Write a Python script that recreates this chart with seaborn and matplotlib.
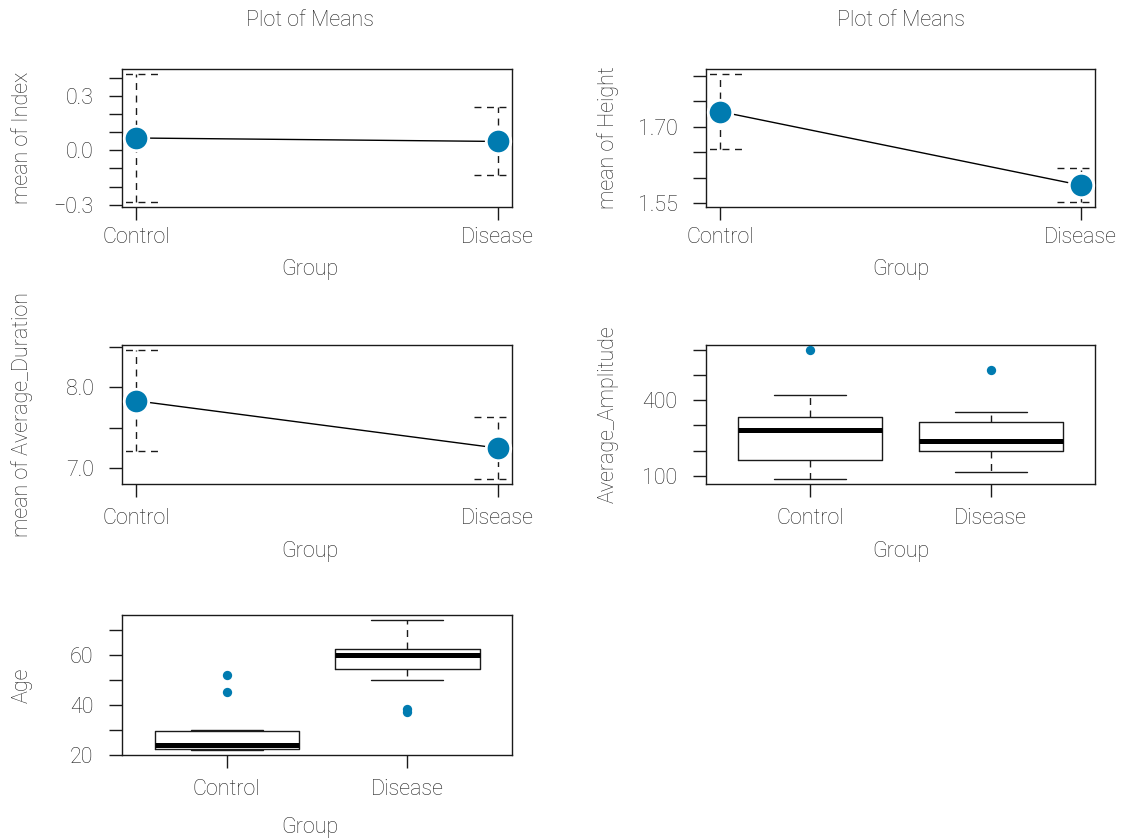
import numpy as np
import pandas as pd
import matplotlib
matplotlib.use("Agg")
import matplotlib.pyplot as plt
import seaborn as sns

# ---------------- data ----------------
groups = ["Control", "Disease"]

index_mean = [0.068, 0.049]
index_lo = [-0.285, -0.137]
index_hi = [0.421, 0.238]

height_mean = [1.730, 1.585]
height_lo = [1.656, 1.552]
height_hi = [1.804, 1.618]

duration_mean = [7.833, 7.246]
duration_lo = [7.204, 6.863]
duration_hi = [8.463, 7.633]

amp_whislo = [89, 118]
amp_q1 = [165, 198]
amp_med = [281, 240]
amp_q3 = [333, 315]
amp_whishi = [421, 352]
amp_fliers = [[598], [520]]

age_whislo = [22, 50]
age_q1 = [22.2, 54.6]
age_med = [24, 60]
age_q3 = [29.5, 62.3]
age_whishi = [30, 74]
age_fliers = [[45, 52], [37.2, 38.4]]

index_ticks = [-0.3, -0.2, -0.1, 0.0, 0.1, 0.2, 0.3, 0.4]
index_labels = ["\u22120.3", "", "", "0.0", "", "", "0.3", ""]
height_ticks = [1.55, 1.60, 1.65, 1.70, 1.75, 1.80]
height_labels = ["1.55", "", "", "1.70", "", ""]
duration_ticks = [7.0, 7.5, 8.0, 8.5]
duration_labels = ["7.0", "", "8.0", ""]
amp_ticks = [100, 200, 300, 400, 500, 600]
amp_labels = ["100", "", "", "400", "", ""]
age_ticks = [20, 30, 40, 50, 60, 70]
age_labels = ["20", "", "40", "", "60", ""]

# ---------------- style ----------------
sns.set_theme(style="ticks")
plt.rcParams["font.family"] = ["Roboto", "DejaVu Sans"]
plt.rcParams["font.weight"] = "light"
plt.rcParams["axes.labelweight"] = "light"
plt.rcParams["axes.titleweight"] = "light"

BLUE = "#007BB0"
TXT = "#222222"
LINE = "#1a1a1a"
FS = 15.5
CAP = 0.066
DASH = (0, (5, 4))

fig = plt.figure(figsize=(11.23, 8.40), dpi=100)
W, H = 1123, 840


def rect(x0, y0, x1, y1):
    return [x0 / W, 1 - y1 / H, (x1 - x0) / W, (y1 - y0) / H]


def style_axes(ax, box, ticks, labels, ylabel, ylab_x, xlab_y, xpad, cx):
    x0, y0, x1, y1 = box
    for s in ax.spines.values():
        s.set_visible(True)
        s.set_color(LINE)
        s.set_linewidth(1.0)
    ax.set_yticks(ticks)
    ax.set_yticklabels(labels)
    ax.tick_params(axis="both", direction="out", length=9.5, width=1.0,
                   color=LINE, labelcolor=TXT, labelsize=FS)
    ax.tick_params(axis="y", pad=11)
    ax.tick_params(axis="x", pad=xpad)
    ax.set_xlabel("Group", fontsize=FS, color=TXT)
    ax.set_ylabel(ylabel, fontsize=FS, color=TXT)
    ax.yaxis.set_label_coords((ylab_x - x0) / (x1 - x0), 0.5)
    ax.yaxis.label.set_va("center")
    ax.xaxis.set_label_coords((cx - x0) / (x1 - x0), (y1 - xlab_y) / (y1 - y0))
    ax.xaxis.label.set_va("center")
    ax.grid(False)


def means_panel(ax, box, mean, lo, hi, ylabel, ticks, labels, ylab_x,
                xlab_y, xpad, cx, title=True):
    x = np.arange(1, len(groups) + 1)
    df = pd.DataFrame({"x": x, "mean": mean, "lo": lo, "hi": hi})
    for xi, l, h in zip(df["x"], df["lo"], df["hi"]):
        ax.vlines(xi, l, h, colors=LINE, linestyles=DASH, lw=1.0, zorder=2)
        ax.hlines([l, h], xi - CAP, xi + CAP, colors=LINE,
                  linestyles=DASH, lw=1.0, zorder=2)
    sns.lineplot(data=df, x="x", y="mean", color="black", lw=1.0,
                 ax=ax, zorder=3, sort=False)
    sns.scatterplot(data=df, x="x", y="mean", color=BLUE, s=310,
                    edgecolor="white", linewidth=2.0, ax=ax, zorder=4)
    lo_all, hi_all = min(lo), max(hi)
    pad = 0.04 * (hi_all - lo_all)
    ax.set_xlim(0.96, 2.04)
    ax.set_xticks(x)
    ax.set_xticklabels(groups)
    style_axes(ax, box, ticks, labels, ylabel, ylab_x, xlab_y, xpad, cx)
    ax.set_ylim(lo_all - pad, hi_all + pad)
    if title:
        ax.text((cx - box[0]) / (box[2] - box[0]),
                1 + (box[1] - 20) / (box[3] - box[1]), "Plot of Means",
                transform=ax.transAxes, ha="center", va="center",
                fontsize=FS, color=TXT)


def box_panel(ax, box, whislo, q1, med, q3, whishi, fliers, ylabel, ticks,
              labels, ylab_x, xlab_y, xpad, cx):
    stats = []
    for i, g in enumerate(groups):
        stats.append(dict(label=g, whislo=whislo[i], q1=q1[i], med=med[i],
                          q3=q3[i], whishi=whishi[i], fliers=[]))
    ax.bxp(stats, positions=[1, 2], widths=0.8, showfliers=False,
           boxprops=dict(color=LINE, lw=1.0),
           whiskerprops=dict(color=LINE, lw=1.0, linestyle=DASH),
           capprops=dict(color=LINE, lw=1.0),
           medianprops=dict(color="black", lw=3.6, solid_capstyle="butt"))
    fx, fy = [], []
    for i, fl in enumerate(fliers):
        for v in fl:
            fx.append(i + 1)
            fy.append(v)
    fdf = pd.DataFrame({"x": fx, "y": fy})
    sns.scatterplot(data=fdf, x="x", y="y", color=BLUE, s=45,
                    edgecolor=BLUE, linewidth=0, ax=ax, zorder=4)
    allv = whislo + whishi + fy
    lo_all, hi_all = min(allv), max(allv)
    pad = 0.04 * (hi_all - lo_all)
    ax.set_xlim(0.42, 2.58)
    ax.set_xticks([1, 2])
    ax.set_xticklabels(groups)
    style_axes(ax, box, ticks, labels, ylabel, ylab_x, xlab_y, xpad, cx)
    ax.set_ylim(lo_all - pad, hi_all + pad)


b1 = (122, 69, 512, 207)
ax1 = fig.add_axes(rect(*b1))
means_panel(ax1, b1, index_mean, index_lo, index_hi, "mean of Index",
            index_ticks, index_labels, 22, 270, 5, 310)

b2 = (706, 69, 1095, 207)
ax2 = fig.add_axes(rect(*b2))
means_panel(ax2, b2, height_mean, height_lo, height_hi, "mean of Height",
            height_ticks, height_labels, 608, 270, 5, 901)

b3 = (122, 345, 512, 484)
ax3 = fig.add_axes(rect(*b3))
means_panel(ax3, b3, duration_mean, duration_lo, duration_hi,
            "mean of Average_Duration", duration_ticks, duration_labels,
            22, 552, 8, 310, title=False)

b4 = (706, 345, 1095, 484)
ax4 = fig.add_axes(rect(*b4))
box_panel(ax4, b4, amp_whislo, amp_q1, amp_med, amp_q3, amp_whishi,
          amp_fliers, "Average_Amplitude", amp_ticks, amp_labels,
          608, 552, 8, 901)

b5 = (122, 615, 512, 755)
ax5 = fig.add_axes(rect(*b5))
box_panel(ax5, b5, age_whislo, age_q1, age_med, age_q3, age_whishi,
          age_fliers, "Age", age_ticks, age_labels, 22, 827, 8, 310)

fig.savefig("out.png", dpi=100, facecolor="white")
